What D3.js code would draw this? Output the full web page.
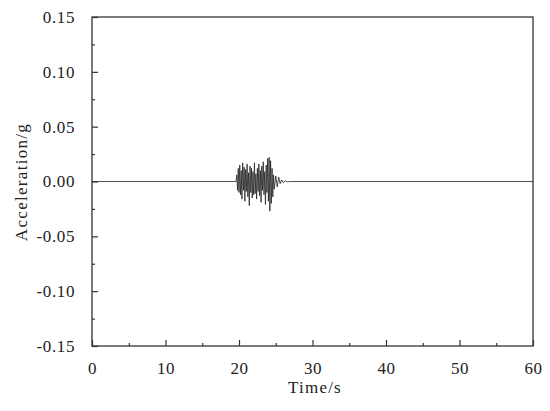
<!DOCTYPE html>
<html><head><meta charset="utf-8">
<script src="https://cdn.jsdelivr.net/npm/d3@7"></script>
<style>body{margin:0;background:#fff}svg{display:block}svg text{font-family:'Liberation Serif','Times New Roman','DejaVu Serif',serif !important;fill:#222}</style>
</head><body>
<svg id="c" width="550" height="411"></svg>
<script>
const timeS = [0, 19.6, 19.7, 19.8, 19.9, 20.0, 20.1, 20.2, 20.3, 20.4, 20.5, 20.6, 20.7, 20.8, 20.9,
  21.0, 21.1, 21.2, 21.3, 21.4, 21.5, 21.6, 21.7, 21.8, 21.9, 22.0, 22.1, 22.2, 22.3, 22.4, 22.5,
  22.6, 22.7, 22.8, 22.9, 23.0, 23.1, 23.2, 23.3, 23.4, 23.5, 23.6, 23.7, 23.8, 23.9, 24.0, 24.1,
  24.2, 24.3, 24.4, 24.5, 24.6, 24.7, 24.8, 25.0, 25.2, 25.4, 25.6, 25.8, 26.0, 26.3, 26.6, 27.0, 60];
const accelG = [0, 0, 0.006, -0.008, 0.012, -0.010, 0.015, -0.012, 0.010, -0.016, 0.017, -0.008, 0.013, -0.018, 0.011,
  -0.009, 0.016, -0.014, 0.008, -0.022, 0.014, -0.010, 0.012, -0.015, 0.009, -0.012, 0.017, -0.011, 0.007, -0.016, 0.012,
  -0.009, 0.016, -0.013, 0.010, -0.019, 0.014, -0.008, 0.018, -0.012, 0.009, -0.021, 0.015, -0.010, 0.021, -0.018, 0.022,
  -0.027, 0.019, -0.020, 0.012, -0.014, 0.006, -0.007, 0.005, -0.005, 0.004, -0.002, 0.0015, -0.001, 0.0005, -0.0003, 0, 0];
const xTicks = [0, 10, 20, 30, 40, 50, 60];
const xMinor = [5, 15, 25, 35, 45, 55];
const yTicks = [-0.15, -0.10, -0.05, 0.00, 0.05, 0.10, 0.15];
const yMinor = [-0.125, -0.075, -0.025, 0.025, 0.075, 0.125];
const xTitle = "Time/s", yTitle = "Acceleration/g";

const L = 92, R = 533, T = 17, B = 346;
const svg = d3.select("#c");
const x = d3.scaleLinear().domain([0, 60]).range([L, R]);
const y = d3.scaleLinear().domain([-0.15, 0.15]).range([B, T]);
const data = timeS.map((t, i) => [t, accelG[i]]);

svg.append("path").datum(data)
  .attr("d", d3.line().x(d => x(d[0])).y(d => y(d[1])))
  .attr("fill", "none").attr("stroke", "#222").attr("stroke-width", 0.8);

svg.append("rect").attr("x", L).attr("y", T).attr("width", R - L).attr("height", B - T)
  .attr("fill", "none").attr("stroke", "#333").attr("stroke-width", 1.3);

const fs = 17;
const xa = svg.append("g").attr("transform", `translate(0,${B})`)
  .call(d3.axisBottom(x).tickValues(xTicks).tickSize(-6).tickPadding(16).tickFormat(d3.format("d")));
const xm = svg.append("g").attr("transform", `translate(0,${B})`)
  .call(d3.axisBottom(x).tickValues(xMinor).tickSize(-3).tickFormat(""));
const ya = svg.append("g").attr("transform", `translate(${L},0)`)
  .call(d3.axisLeft(y).tickValues(yTicks).tickSize(-6).tickPadding(17).tickFormat(d => d3.format(".2f")(d).replace("\u2212", "-")));
const ym = svg.append("g").attr("transform", `translate(${L},0)`)
  .call(d3.axisLeft(y).tickValues(yMinor).tickSize(-3).tickFormat(""));
[xa, xm, ya, ym].forEach(g => {
  g.attr("font-family", null).attr("font-size", null);
  g.select(".domain").remove();
  g.selectAll("line").attr("stroke", "#333").attr("stroke-width", 1.2);
  g.selectAll("text").attr("font-size", fs).attr("fill", "#222").attr("letter-spacing", 0.6);
});

svg.append("text").attr("x", 315).attr("y", 393).attr("text-anchor", "middle")
  .attr("font-size", fs).attr("letter-spacing", 1.2).text(xTitle);
svg.append("text").attr("transform", "translate(27,182) rotate(-90)").attr("text-anchor", "middle")
  .attr("font-size", fs).attr("letter-spacing", 1.3).text(yTitle);
</script>
</body></html>
